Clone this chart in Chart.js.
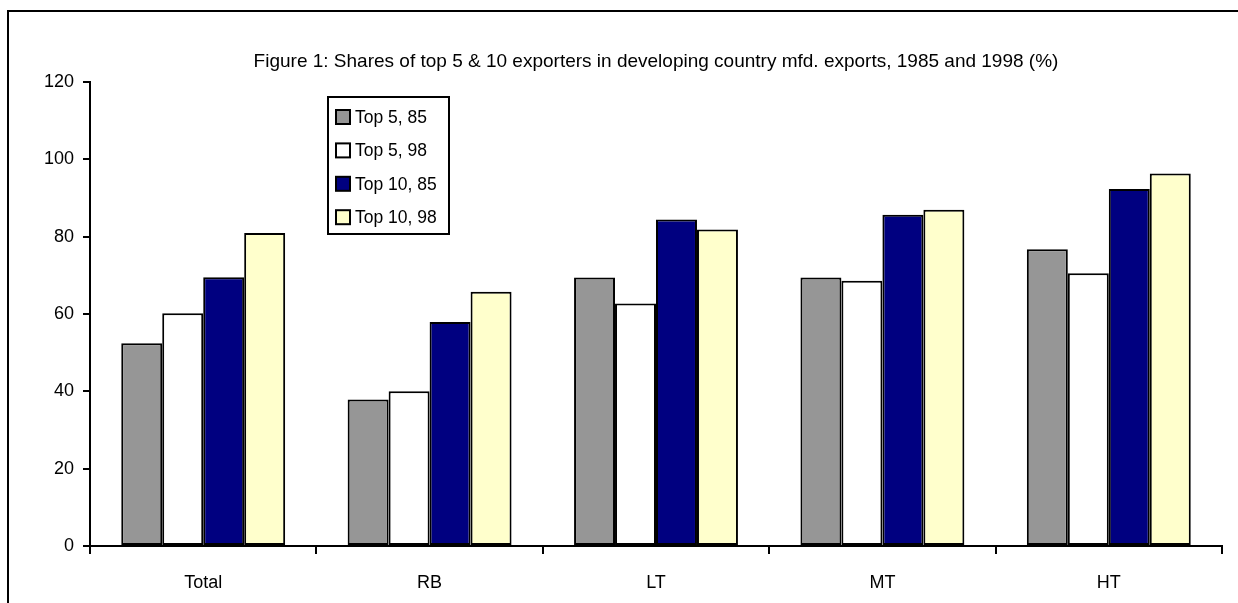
<!DOCTYPE html>
<html>
<head>
<meta charset="utf-8">
<script src="https://cdn.jsdelivr.net/npm/chart.js@4"></script>
<style>
  html, body { margin: 0; padding: 0; background: #fff; overflow: hidden; }
  #wrap { position: relative; width: 1238px; height: 603px; }
  #frame { position: absolute; left: 7px; top: 10px; width: 1300px; height: 700px; border: 2px solid #000; }
  canvas { position: absolute; left: 0; top: 0; }
</style>
</head>
<body>
<div id="wrap">
  <div id="frame"></div>
  <canvas id="chart" width="1238" height="603"></canvas>
</div>
<script>
const FONT = "'Liberation Sans', Arial, sans-serif";

// Chart data
const categories = ['Total', 'RB', 'LT', 'MT', 'HT'];
const top5_85 = [52.4, 37.9, 69.4, 69.4, 76.7];
const top5_98 = [60.2, 40.0, 62.7, 68.6, 70.5];
const top10_85 = [69.5, 57.9, 84.4, 85.6, 92.3];
const top10_98 = [80.9, 65.7, 81.8, 86.9, 96.3];
const yMin = 0;
const yMax = 120;
const yStep = 20;

// Legend drawn as a boxed overlay inside the plot area
const legendBox = {
  id: 'legendBox',
  afterDraw(chart, args, opts) {
    const ctx = chart.ctx;
    ctx.save();
    ctx.fillStyle = '#fff';
    ctx.strokeStyle = '#000';
    ctx.lineWidth = 2;
    ctx.fillRect(opts.x, opts.y, opts.w, opts.h);
    ctx.strokeRect(opts.x, opts.y, opts.w, opts.h);
    ctx.font = opts.fontSize + 'px ' + FONT;
    ctx.textBaseline = 'middle';
    chart.data.datasets.forEach((ds, i) => {
      const cy = opts.y + opts.firstRow + i * opts.rowGap;
      ctx.fillStyle = ds.backgroundColor;
      ctx.fillRect(opts.x + 8, cy - 7, 14, 14);
      ctx.lineWidth = 2;
      ctx.strokeRect(opts.x + 8, cy - 7, 14, 14);
      ctx.fillStyle = '#000';
      ctx.fillText(ds.label, opts.x + 27, cy + 1);
    });
    ctx.restore();
  }
};

const barStyle = {
  borderColor: '#000',
  borderWidth: 2,
  borderSkipped: false,
  barPercentage: 1,
  categoryPercentage: 0.724,
};

new Chart(document.getElementById('chart'), {
  type: 'bar',
  data: {
    labels: categories,
    datasets: [
      { label: 'Top 5, 85', data: top5_85, backgroundColor: '#969696', ...barStyle },
      { label: 'Top 5, 98', data: top5_98, backgroundColor: '#ffffff', ...barStyle },
      { label: 'Top 10, 85', data: top10_85, backgroundColor: '#000080', ...barStyle },
      { label: 'Top 10, 98', data: top10_98, backgroundColor: '#ffffcc', ...barStyle },
    ],
  },
  options: {
    responsive: false,
    animation: false,
    layout: { padding: { left: 0, right: 16, top: 0, bottom: 0 } },
    plugins: {
      legend: { display: false },
      tooltip: { enabled: false },
      title: {
        display: true,
        fullSize: false,
        text: 'Figure 1: Shares of top 5 & 10 exporters in developing country mfd. exports, 1985 and 1998 (%)',
        color: '#000',
        font: { family: FONT, size: 19, weight: 'normal' },
        padding: { top: 50, bottom: 9 },
      },
      legendBox: { x: 328, y: 97, w: 121, h: 137, firstRow: 20, rowGap: 33.4, fontSize: 17.5 },
    },
    scales: {
      x: {
        grid: { drawOnChartArea: false, drawTicks: true, tickLength: 8, color: '#000', lineWidth: 2, offset: true },
        border: { display: true, color: '#000', width: 2 },
        ticks: { color: '#000', font: { family: FONT, size: 18 }, padding: 18 },
        afterFit: s => { s.height = 57; },
      },
      y: {
        min: yMin,
        max: yMax,
        grid: { drawOnChartArea: false, drawTicks: true, tickLength: 7, color: '#000', lineWidth: 2 },
        border: { display: true, color: '#000', width: 2 },
        ticks: { stepSize: yStep, color: '#000', font: { family: FONT, size: 18 }, padding: 9 },
        afterFit: s => { s.width = 90; },
      },
    },
  },
  plugins: [legendBox],
});
</script>
</body>
</html>
